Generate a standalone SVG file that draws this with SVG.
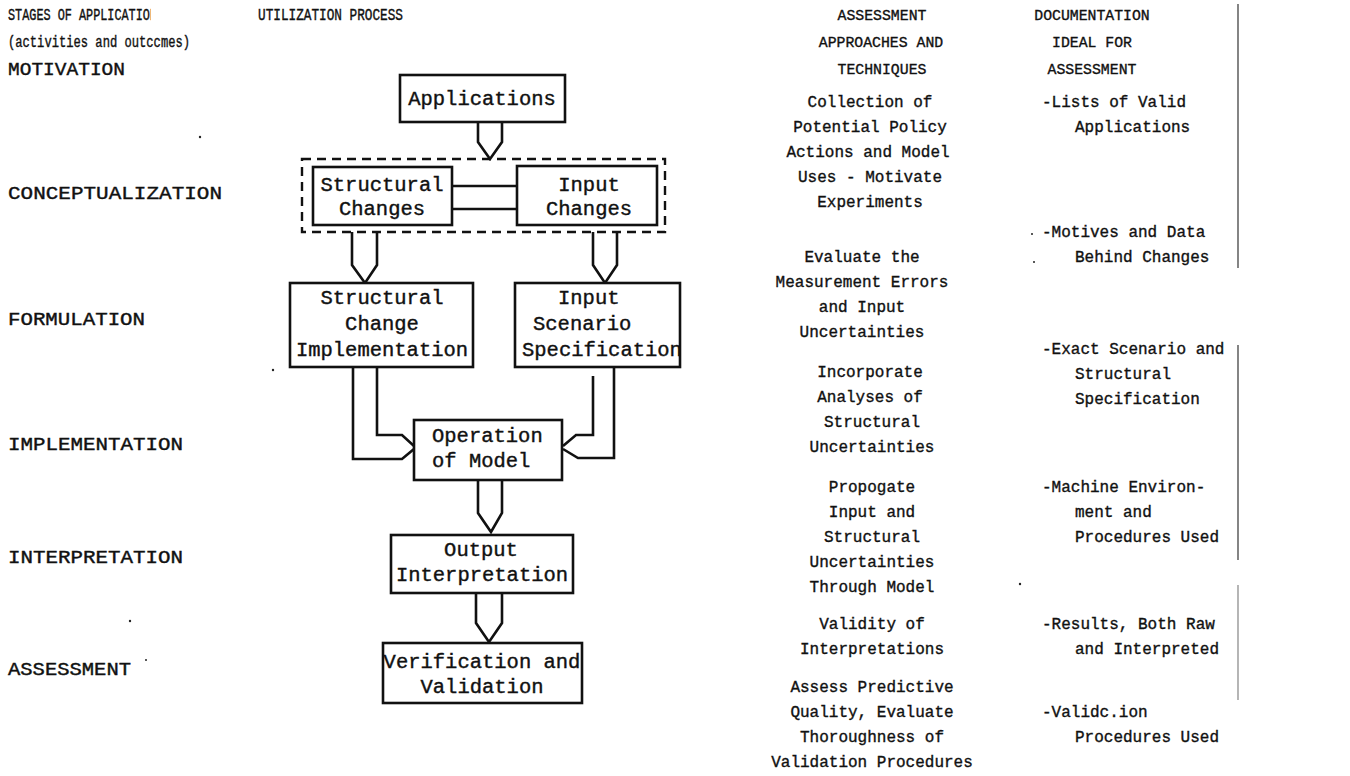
<svg xmlns="http://www.w3.org/2000/svg" width="1350" height="776" viewBox="0 0 1350 776">
  <style>
    .hdr { font-family: "Liberation Mono", "Courier New", monospace; font-size: 16.5px; fill: #111; stroke: #111; stroke-width: 0.4; }
    .lbl { font-family: "Liberation Mono", "Courier New", monospace; font-size: 18px; fill: #111; stroke: #111; stroke-width: 0.4; }
    .chd { font-family: "Liberation Mono", "Courier New", monospace; font-size: 14.8px; fill: #111; stroke: #111; stroke-width: 0.35; }
    .col { font-family: "Liberation Mono", "Courier New", monospace; font-size: 16px; fill: #111; stroke: #111; stroke-width: 0.35; }
    .mid { text-anchor: middle; }
    .ft { font-family: "Liberation Mono", "Courier New", monospace; font-size: 20.5px; fill: #111; stroke: #111; stroke-width: 0.4; }
    .box { fill: #fff; stroke: #111; stroke-width: 2.6; }
    .dash { fill: none; stroke: #111; stroke-width: 2.4; stroke-dasharray: 9 6; }
    .wire { fill: none; stroke: #111; stroke-width: 2.6; stroke-linejoin: miter; }
    .rule { stroke: #333; stroke-width: 1.2; }
    .speck { fill: #222; }
  </style>
  <defs>
    <clipPath id="cutN">
      <rect x="0" y="0" width="151" height="30"/>
    </clipPath>
  </defs>
  <rect width="1350" height="776" fill="#fff"/>

  <!-- stage labels, left column -->
  <g id="stages">
    <text class="hdr" x="8" y="20" textLength="149" lengthAdjust="spacingAndGlyphs" clip-path="url(#cutN)">STAGES OF APPLICATION</text>
    <text class="hdr" x="8" y="47" textLength="182" lengthAdjust="spacingAndGlyphs">(activities and outccmes)</text>
    <text class="lbl" x="8" y="75" textLength="117" lengthAdjust="spacingAndGlyphs">MOTIVATION</text>
    <text class="lbl" x="8" y="199" textLength="214" lengthAdjust="spacingAndGlyphs">CONCEPTUALIZATION</text>
    <text class="lbl" x="8" y="325" textLength="137" lengthAdjust="spacingAndGlyphs">FORMULATION</text>
    <text class="lbl" x="8" y="450" textLength="175" lengthAdjust="spacingAndGlyphs">IMPLEMENTATION</text>
    <text class="lbl" x="8" y="563" textLength="175" lengthAdjust="spacingAndGlyphs">INTERPRETATION</text>
    <text class="lbl" x="8" y="675" textLength="123" lengthAdjust="spacingAndGlyphs">ASSESSMENT</text>
  </g>

  <text class="hdr" x="258" y="20" textLength="145" lengthAdjust="spacingAndGlyphs">UTILIZATION PROCESS</text>

  <!-- fat arrows and links between process boxes -->
  <g id="connectors">
    <path class="wire" d="M478,122 V142 L490,159 L502,142 V122"/>
    <line class="wire" x1="452" y1="186" x2="517" y2="186"/>
    <line class="wire" x1="452" y1="209" x2="517" y2="209"/>
    <path class="wire" d="M352,232 V265 L365,283 L377,265 V232"/>
    <path class="wire" d="M593,232 V265 L605,283 L617,265 V232"/>
    <path class="wire" d="M377,367 V435 H402 L414,446"/>
    <path class="wire" d="M353,367 V459 H402 L414,449"/>
    <path class="wire" d="M593,376 V435 H576 L563,446"/>
    <path class="wire" d="M614,367 V458 H578 L563,449"/>
    <path class="wire" d="M478,480 V513 L491,532 L502,513 V480"/>
    <path class="wire" d="M476,593 V623 L489,642 L502,623 V593"/>
  </g>

  <g id="applications">
    <rect class="box" x="400" y="75" width="165" height="47"/>
    <text class="ft mid" x="482" y="105">Applications</text>
  </g>

  <g id="changes-group">
    <rect class="dash" x="302" y="159" width="363" height="73"/>
  </g>

  <g id="structural-changes">
    <rect class="box" x="313" y="167" width="139" height="58"/>
    <text class="ft mid" x="382" y="191">Structural</text>
    <text class="ft mid" x="382" y="215">Changes</text>
  </g>

  <g id="input-changes">
    <rect class="box" x="517" y="166" width="140" height="59"/>
    <text class="ft mid" x="589" y="191">Input</text>
    <text class="ft mid" x="589" y="215">Changes</text>
  </g>

  <g id="structural-change-implementation">
    <rect class="box" x="290" y="283" width="183" height="84"/>
    <text class="ft mid" x="382" y="304">Structural</text>
    <text class="ft mid" x="382" y="330">Change</text>
    <text class="ft mid" x="382" y="356">Implementation</text>
  </g>

  <g id="input-scenario-specification">
    <rect class="box" x="515" y="283" width="165" height="84"/>
    <text class="ft" x="558" y="304">Input</text>
    <text class="ft" x="533" y="330">Scenario</text>
    <text class="ft" x="522" y="356">Specification</text>
  </g>

  <g id="operation-of-model">
    <rect class="box" x="414" y="420" width="148" height="60"/>
    <text class="ft" x="432" y="442">Operation</text>
    <text class="ft" x="432" y="467">of Model</text>
  </g>

  <g id="output-interpretation">
    <rect class="box" x="391" y="535" width="182" height="58"/>
    <text class="ft mid" x="481" y="556">Output</text>
    <text class="ft mid" x="482" y="581">Interpretation</text>
  </g>

  <g id="verification-and-validation">
    <rect class="box" x="383" y="643" width="199" height="60"/>
    <text class="ft mid" x="482" y="668">Verification and</text>
    <text class="ft mid" x="482" y="693">Validation</text>
  </g>

  <!-- assessment approaches column -->
  <g id="assessment-approaches">
    <text class="chd mid" x="882" y="20">ASSESSMENT</text>
    <text class="chd mid" x="881" y="47">APPROACHES AND</text>
    <text class="chd mid" x="882" y="74">TECHNIQUES</text>
    <text class="col mid" x="870" y="107">Collection of</text>
    <text class="col mid" x="870" y="132">Potential Policy</text>
    <text class="col mid" x="868" y="157">Actions and Model</text>
    <text class="col mid" x="870" y="182">Uses - Motivate</text>
    <text class="col mid" x="870" y="207">Experiments</text>
    <text class="col mid" x="862" y="262">Evaluate the</text>
    <text class="col mid" x="862" y="287">Measurement Errors</text>
    <text class="col mid" x="862" y="312">and Input</text>
    <text class="col mid" x="862" y="337">Uncertainties</text>
    <text class="col mid" x="870" y="377">Incorporate</text>
    <text class="col mid" x="870" y="402">Analyses of</text>
    <text class="col mid" x="872" y="427">Structural</text>
    <text class="col mid" x="872" y="452">Uncertainties</text>
    <text class="col mid" x="872" y="492">Propogate</text>
    <text class="col mid" x="872" y="517">Input and</text>
    <text class="col mid" x="872" y="542">Structural</text>
    <text class="col mid" x="872" y="567">Uncertainties</text>
    <text class="col mid" x="872" y="592">Through Model</text>
    <text class="col mid" x="872" y="629">Validity of</text>
    <text class="col mid" x="872" y="654">Interpretations</text>
    <text class="col mid" x="872" y="692">Assess Predictive</text>
    <text class="col mid" x="872" y="717">Quality, Evaluate</text>
    <text class="col mid" x="872" y="742">Thoroughness of</text>
    <text class="col mid" x="872" y="767">Validation Procedures</text>
  </g>

  <!-- documentation column -->
  <g id="documentation">
    <text class="chd mid" x="1092" y="20">DOCUMENTATION</text>
    <text class="chd mid" x="1092" y="47">IDEAL FOR</text>
    <text class="chd mid" x="1092" y="74">ASSESSMENT</text>
    <text class="col" x="1042" y="107">-Lists of Valid</text>
    <text class="col" x="1075" y="132">Applications</text>
    <text class="col" x="1042" y="237">-Motives and Data</text>
    <text class="col" x="1075" y="262">Behind Changes</text>
    <text class="col" x="1042" y="354">-Exact Scenario and</text>
    <text class="col" x="1075" y="379">Structural</text>
    <text class="col" x="1075" y="404">Specification</text>
    <text class="col" x="1042" y="492">-Machine Environ-</text>
    <text class="col" x="1075" y="517">ment and</text>
    <text class="col" x="1075" y="542">Procedures Used</text>
    <text class="col" x="1042" y="629">-Results, Both Raw</text>
    <text class="col" x="1075" y="654">and Interpreted</text>
    <text class="col" x="1042" y="717">-Validc.ion</text>
    <text class="col" x="1075" y="742">Procedures Used</text>
  </g>

  <!-- right margin rule -->
  <g id="margin-rule">
    <line class="rule" x1="1238" y1="4" x2="1238" y2="268"/>
    <line class="rule" x1="1238" y1="345" x2="1238" y2="560"/>
    <line class="rule" x1="1238" y1="585" x2="1238" y2="700" stroke-opacity="0.6"/>
  </g>

  <!-- stray marks -->
  <g id="specks">
    <circle class="speck" cx="200" cy="137" r="1.2"/>
    <circle class="speck" cx="273" cy="370" r="1.2"/>
    <circle class="speck" cx="130" cy="621" r="1.2"/>
    <circle class="speck" cx="146" cy="660" r="1"/>
    <circle class="speck" cx="1032" cy="234" r="1"/>
    <circle class="speck" cx="1034" cy="262" r="1"/>
    <circle class="speck" cx="1020" cy="584" r="1.2"/>
  </g>
</svg>
